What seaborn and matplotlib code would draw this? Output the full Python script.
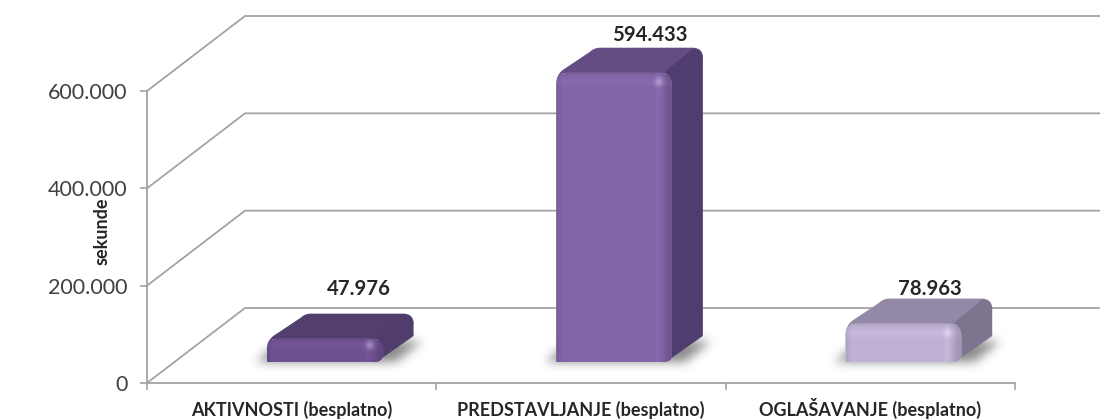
import numpy as np
import pandas as pd
import matplotlib
matplotlib.use('Agg')
import matplotlib.pyplot as plt
import seaborn as sns
from matplotlib.path import Path
from matplotlib.patches import PathPatch
from matplotlib.ticker import FuncFormatter
from matplotlib.transforms import ScaledTranslation

# data
categories = ['AKTIVNOSTI (besplatno)', 'PREDSTAVLJANJE (besplatno)', 'OGLAŠAVANJE (besplatno)']
values = [47976, 594433, 78963]
y_ticks = [0, 200000, 400000, 600000]

# colours
face_colors = ['#6F5192', '#8265A8', '#BEB1D2']
top_colors = ['#533F6E', '#634D83', '#9389A6']
side_colors = ['#513D6B', '#503D6F', '#7F7490']
GRID = '#A3A3A3'
TEXT = '#262626'


def dotted(v, pos=None):
    return f"{int(v):,}".replace(',', '.')


def hex_rgb(c):
    return np.array(matplotlib.colors.to_rgb(c))


def front_image(color, w, h):
    # shading of the front face, one cell per pixel
    w, h = int(round(w)), int(round(h))
    xx, yy = np.meshgrid(np.arange(w) + 0.5, np.arange(h) + 0.5)
    bev = min(15, h * 0.45)
    shade = np.ones((h, w))
    shade *= 0.90 + 0.10 * np.clip(xx / 7, 0, 1)
    from_right = w - xx
    shade *= np.where(from_right < 16, 0.84 + 0.20 * np.sin(np.clip(from_right / 16, 0, 1) * np.pi / 2) ** 2, 1.0)
    shade *= 0.92 + 0.12 * np.sin(np.clip(yy / bev, 0, 1) * np.pi * 0.75)
    rgb = np.clip(hex_rgb(color)[None, None, :] * shade[..., None], 0, 1)
    # highlight on the top right corner
    glow = 0.32 * np.exp(-((from_right - 13) ** 2 + (yy - bev * 0.65) ** 2) / (2 * 3.0 ** 2))
    rgb = rgb + (1 - rgb) * glow[..., None]
    return rgb


def blur(a, sigma):
    r = int(sigma * 3)
    k = np.exp(-np.arange(-r, r + 1) ** 2 / (2 * sigma ** 2))
    k /= k.sum()
    a = np.apply_along_axis(lambda m: np.convolve(m, k, mode='same'), 0, a)
    return np.apply_along_axis(lambda m: np.convolve(m, k, mode='same'), 1, a)


sns.set_theme(style='white')
plt.rcParams['font.family'] = ['Lato', 'DejaVu Sans']

W, H = 1100, 419
fig = plt.figure(figsize=(11, 4.19), dpi=100)

# pixel layer behind the chart, for the fake 3D parts
pix = fig.add_axes([0, 0, 1, 1], zorder=1)
pix.set_xlim(0, W)
pix.set_ylim(H, 0)
pix.axis('off')
pix.autoscale(False)

AX_L, AX_R, AX_T, AX_B = 147, 1015, 91, 383
ax = fig.add_axes([AX_L / W, (H - AX_B) / H, (AX_R - AX_L) / W, (AX_B - AX_T) / H], zorder=2)
ax.patch.set_alpha(0)

df = pd.DataFrame({'kategorija': categories, 'sekunde': values})
sns.barplot(data=df, x='kategorija', y='sekunde', hue='kategorija', palette=face_colors,
            width=0.4, saturation=1, legend=False, ax=ax)
ax.set_xlim(-0.5, 2.5)
ax.set_ylim(0, 600000)
ax.autoscale(False)
sns.despine(ax=ax)

# axes styling
for s in ['left', 'bottom']:
    ax.spines[s].set_color(GRID)
    ax.spines[s].set_linewidth(1.3)
ax.yaxis.set_major_formatter(FuncFormatter(dotted))
ax.set_yticks(y_ticks)
ax.set_xticks([-0.5, 0.5, 1.5, 2.5])
ax.set_xticklabels([])
ax.set_xticks([0, 1, 2], minor=True)
ax.set_xticklabels(categories, minor=True, fontsize=13, fontweight='bold', color=TEXT, va='baseline')
ax.tick_params(axis='x', which='major', length=5, width=1.2, color=GRID, bottom=True)
ax.tick_params(axis='x', which='minor', length=0, pad=24, bottom=True)
ax.tick_params(axis='y', length=5, width=1.2, color=GRID, left=True, labelsize=15.5,
               labelcolor='#404040', pad=9)
ax.set_xlabel('')
ax.set_ylabel('sekunde', fontsize=13, fontweight='bold', color=TEXT)
ax.yaxis.set_label_coords((111 - AX_L) / (AX_R - AX_L), (AX_B - 231) / (AX_B - AX_T))


def to_pix(x, y):
    px, py = ax.transData.transform((x, y))
    return px, H - py


# back wall and side wall lines, at every y tick
WALL_DX, WALL_DY = 98, 75
for t in y_ticks:
    fx, fy = to_pix(-0.5, t)
    pix.plot([fx, fx + WALL_DX, W], [fy, fy - WALL_DY, fy - WALL_DY], color=GRID, lw=1.3, zorder=1,
             solid_joinstyle='miter')

# bars: seaborn's rectangles are moved onto the floor, then shaded
SHIFT_X, SHIFT_Y = 33, 21
DEPTH_X, DEPTH_Y = 31, 25
shift = ax.transData + ScaledTranslation(SHIFT_X / 100, SHIFT_Y / 100, fig.dpi_scale_trans)
label_offsets = [(34, -25), (36, -13), (27, -10)]

for bar, val, fc, tc, sc, off in zip(ax.patches, values, face_colors, top_colors, side_colors, label_offsets):
    bx, bw = bar.get_x(), bar.get_width()
    x0, y0 = to_pix(bx, 0)
    x1, y1 = to_pix(bx + bw, val)
    x0, x1 = x0 + SHIFT_X, x1 + SHIFT_X
    ybase, ytop = y0 - SHIFT_Y, y1 - SHIFT_Y
    h = ybase - ytop
    r = min(12, h * 0.45)

    # soft shadow on the floor
    sx0, sy0 = int(x0 - 50), int(ybase - DEPTH_Y - 25)
    sw, sh = int(x1 - x0 + DEPTH_X + 100), int(DEPTH_Y + 45)
    gx, gy = np.meshgrid(np.arange(sw) + sx0, np.arange(sh) + sy0)
    slide = (ybase - gy) * DEPTH_X / DEPTH_Y
    mask = ((gx > x0 - 12 + slide) & (gx < x1 + 12 + slide) & (gy > ybase - DEPTH_Y + 3) & (gy < ybase)).astype(float)
    alpha = blur(mask, 5) * 0.7
    sh_img = np.zeros((sh, sw, 4))
    sh_img[..., :3] = 0.35
    sh_img[..., 3] = alpha
    pix.imshow(sh_img, extent=(sx0, sx0 + sw, sy0 + sh, sy0), aspect='auto', zorder=2, interpolation='bilinear')

    # top face and side face
    Bx, Bt = x1 + DEPTH_X, ytop - DEPTH_Y
    Lx = x0 + DEPTH_X + 3
    top_path = Path([(x0, ytop + r), (x0, ytop + 2), (x0 + 7, ytop - 3), (Lx, Bt + 4), (Lx + 4, Bt), (Lx + 10, Bt),
                     (Bx - 10, Bt), (Bx, Bt), (Bx, Bt + 10), (x1, ytop + r), (x0, ytop + r)],
                    [Path.MOVETO, Path.CURVE3, Path.CURVE3, Path.LINETO, Path.CURVE3, Path.CURVE3, Path.LINETO,
                     Path.CURVE3, Path.CURVE3, Path.LINETO, Path.CLOSEPOLY])
    pix.add_patch(PathPatch(top_path, fc=tc, ec='none', zorder=3))
    side_path = Path([(x1 - 8, ytop), (Bx - 10, Bt + 1), (Bx, Bt + 2), (Bx, Bt + 10), (Bx, ybase - DEPTH_Y - 1),
                      (x1 - 6, ybase), (x1 - r, ybase), (x1 - 8, ytop)],
                     [Path.MOVETO, Path.LINETO, Path.CURVE3, Path.CURVE3, Path.LINETO, Path.LINETO, Path.LINETO,
                      Path.CLOSEPOLY])
    pix.add_patch(PathPatch(side_path, fc=sc, ec='none', zorder=3))

    # front face: seaborn's bar, clipped round, with the shading over it
    front = Path([(x0, ybase), (x0, ytop + r), (x0, ytop), (x0 + r, ytop), (x1 - r, ytop), (x1, ytop), (x1, ytop + r),
                  (x1, ybase - 6), (x1, ybase), (x1 - 9, ybase), (x0, ybase)],
                 [Path.MOVETO, Path.LINETO, Path.CURVE3, Path.CURVE3, Path.LINETO, Path.CURVE3, Path.CURVE3,
                  Path.LINETO, Path.CURVE3, Path.CURVE3, Path.CLOSEPOLY])
    bar.set_transform(shift)
    bar.set_clip_box(fig.bbox)
    bar.set_clip_path(front, pix.transData)
    im = ax.imshow(front_image(fc, x1 - x0, h), extent=(bx, bx + bw, 0, val), aspect='auto',
                   zorder=bar.get_zorder() + 1, interpolation='bilinear')
    im.set_transform(shift)
    im.set_clip_box(fig.bbox)
    im.set_clip_path(front, pix.transData)

    # value label, in pixel position above the bar
    pix.text((x0 + x1) / 2 + off[0], Bt + off[1], dotted(val), ha='center', va='center',
             fontsize=14.6, fontweight='bold', color=TEXT, zorder=6)

fig.savefig('out.png', dpi=100)
plt.close(fig)
